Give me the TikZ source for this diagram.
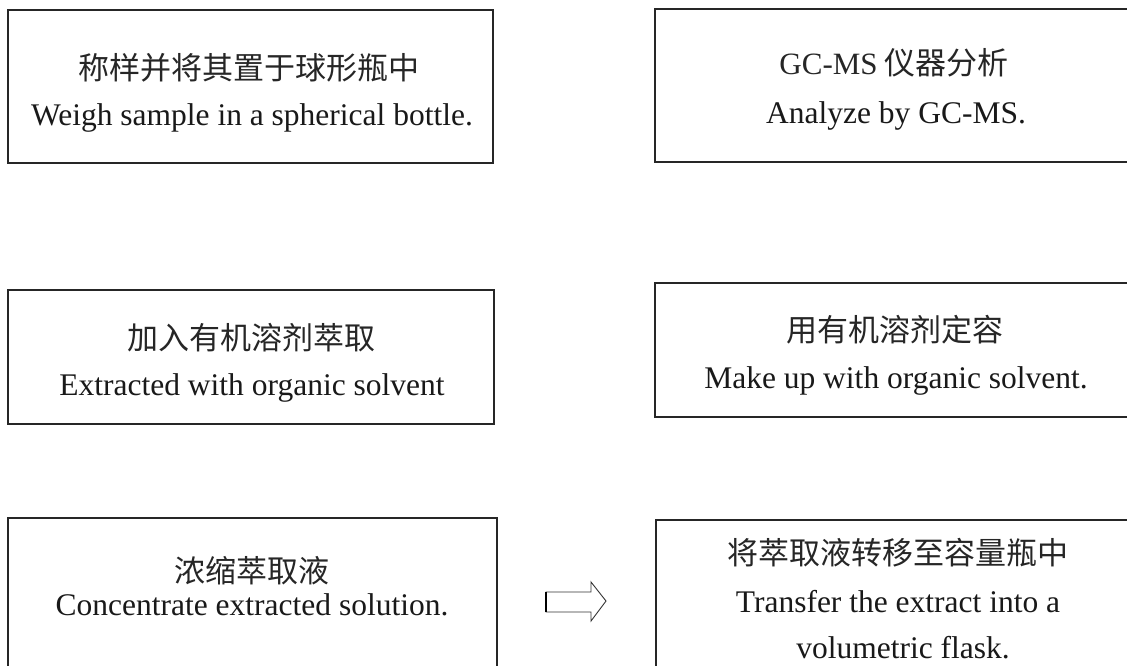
\documentclass[tikz,border=0pt]{standalone}
\usepackage{fontspec}
\setmainfont{Liberation Serif}
\newfontfamily\cjk{Noto Sans CJK SC}
\begin{document}
\begin{tikzpicture}[x=1pt,y=-1pt,
  box/.style={draw=black!85, line width=1.1pt, rectangle, inner sep=0pt},
  cn/.style={inner sep=0pt, anchor=center, font=\cjk\fontsize{31}{37}\selectfont, text=black!85},
  en/.style={inner sep=0pt, anchor=base, font=\fontsize{31.5}{37}\selectfont, text=black!90}]
\useasboundingbox (0,0) rectangle (1127,665);
\fill[white] (0,0) rectangle (1127,665);
% boxes
\node[box, minimum width=485pt, minimum height=153pt] (A) at (250.5,86.5) {};
\node[box, minimum width=480pt, minimum height=153pt] (B) at (895,85.5) {};
\node[box, minimum width=486pt, minimum height=134pt] (C) at (251,357) {};
\node[box, minimum width=480pt, minimum height=134pt] (D) at (895,350) {};
\node[box, minimum width=489pt, minimum height=162pt] (E) at (252.5,599) {};
\node[box, minimum width=479pt, minimum height=160pt] (F) at (895.5,600) {};
% texts
\node[cn] (A1) at (249,68) {称样并将其置于球形瓶中};
\node[en] (A2) at (252,125) {Weigh sample in a spherical bottle.};
\node[cn] (B1) at (894,63) {{\fontspec{Liberation Serif}GC-MS} 仪器分析};
\node[en] (B2) at (896,123) {Analyze by GC-MS.};
\node[cn] (C1) at (251,338) {加入有机溶剂萃取};
\node[en] (C2) at (252,395) {Extracted with organic solvent};
\node[cn] (D1) at (895,330) {用有机溶剂定容};
\node[en] (D2) at (896,388) {Make up with organic solvent.};
\node[cn] (E1) at (252,571) {浓缩萃取液};
\node[en] (E2) at (252,615) {Concentrate extracted solution.};
\node[cn] (F1) at (898,553) {将萃取液转移至容量瓶中};
\node[en] (F2) at (898,612) {Transfer the extract into a};
\node[en] (F3) at (903,658) {volumetric flask.};
% hollow arrow
\draw[black!80, line width=0.9pt, line join=miter]
  (546,592) -- (591,592) -- (591,582) -- (606,601) -- (591,621) -- (591,612) -- (546,612) -- cycle;
\draw[black, line width=1.6pt] (546,592) -- (546,612);
\end{tikzpicture}
\end{document}
